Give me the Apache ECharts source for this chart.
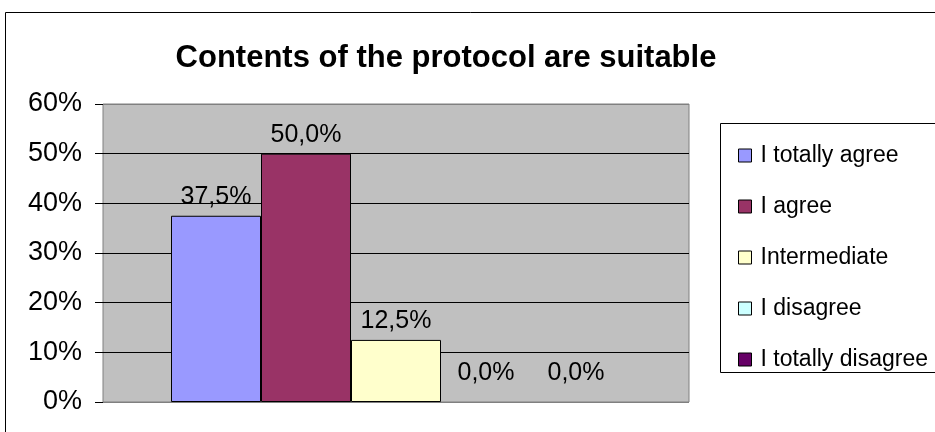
<!DOCTYPE html>
<html>
<head>
<meta charset="utf-8">
<script src="https://cdn.jsdelivr.net/npm/echarts@6/dist/echarts.min.js"></script>
<style>
  html, body { margin: 0; padding: 0; background: #fff; }
  #chart { width: 935px; height: 432px; }
</style>
</head>
<body>
<div id="chart"></div>
<script>
const categories = [''];
const seriesNames = ['I totally agree', 'I agree', 'Intermediate', 'I disagree', 'I totally disagree'];
const seriesValues = [37.5, 50.0, 12.5, 0.0, 0.0];
const seriesColors = ['#9999FF', '#993366', '#FFFFCC', '#CCFFFF', '#660066'];
const yTicks = [0, 10, 20, 30, 40, 50, 60];

const fmt = v => v.toFixed(1).replace('.', ',') + '%';

const chart = echarts.init(document.getElementById('chart'));

const series = seriesNames.map((name, i) => ({
  name: name,
  type: 'bar',
  data: [seriesValues[i]],
  barWidth: 90,
  barGap: '0%',
  itemStyle: {
    color: seriesColors[i],
    borderColor: '#000',
    borderWidth: seriesValues[i] === 0 ? 0 : 1
  },
  label: {
    show: true,
    position: 'top',
    distance: seriesValues[i] === 0 ? 16 : 6,
    formatter: p => fmt(p.value),
    fontFamily: 'Liberation Sans, Arial, sans-serif',
    fontSize: 25,
    color: '#000'
  }
}));

chart.setOption({
  animation: false,
  backgroundColor: '#fff',
  textStyle: { fontFamily: 'Liberation Sans, Arial, sans-serif' },
  title: {
    text: 'Contents of the protocol are suitable',
    left: 441,
    textAlign: 'center',
    top: 38,
    textStyle: { fontSize: 31, fontWeight: 'bold', color: '#000', fontFamily: 'Liberation Sans, Arial, sans-serif' }
  },
  graphic: [
    {
      type: 'rect',
      shape: { x: 5.5, y: 12.5, width: 940, height: 430 },
      style: { fill: null, stroke: '#000', lineWidth: 1 },
      z: -1
    },
    {
      type: 'rect',
      shape: { x: 720.5, y: 123.5, width: 230, height: 249 },
      style: { fill: '#fff', stroke: '#000', lineWidth: 1 },
      z: 0
    }
  ],
  legend: {
    orient: 'vertical',
    left: 733,
    top: 139,
    itemGap: 28,
    itemWidth: 13,
    itemHeight: 13,
    icon: 'rect',
    itemStyle: { borderColor: '#000', borderWidth: 1 },
    textStyle: { fontSize: 23, color: '#000', padding: [0, 0, 0, 4] },
    data: seriesNames,
    z: 5
  },
  grid: {
    left: 103,
    top: 104,
    width: 586,
    height: 298,
    show: true,
    backgroundColor: '#C0C0C0',
    borderColor: '#808080',
    borderWidth: 1
  },
  xAxis: {
    type: 'category',
    data: categories,
    axisLine: { show: false },
    axisTick: { show: false },
    axisLabel: { show: false }
  },
  yAxis: {
    type: 'value',
    min: yTicks[0],
    max: yTicks[yTicks.length - 1],
    interval: 10,
    axisLine: { show: false },
    axisTick: { show: true, length: 8, lineStyle: { color: '#000' } },
    axisLabel: {
      formatter: v => v + '%',
      fontSize: 27,
      color: '#000',
      margin: 21
    },
    splitLine: {
      show: true,
      lineStyle: { color: ['#808080', '#000', '#000', '#000', '#000', '#000', '#808080'], width: 1 }
    }
  },
  series: series
});
</script>
</body>
</html>
